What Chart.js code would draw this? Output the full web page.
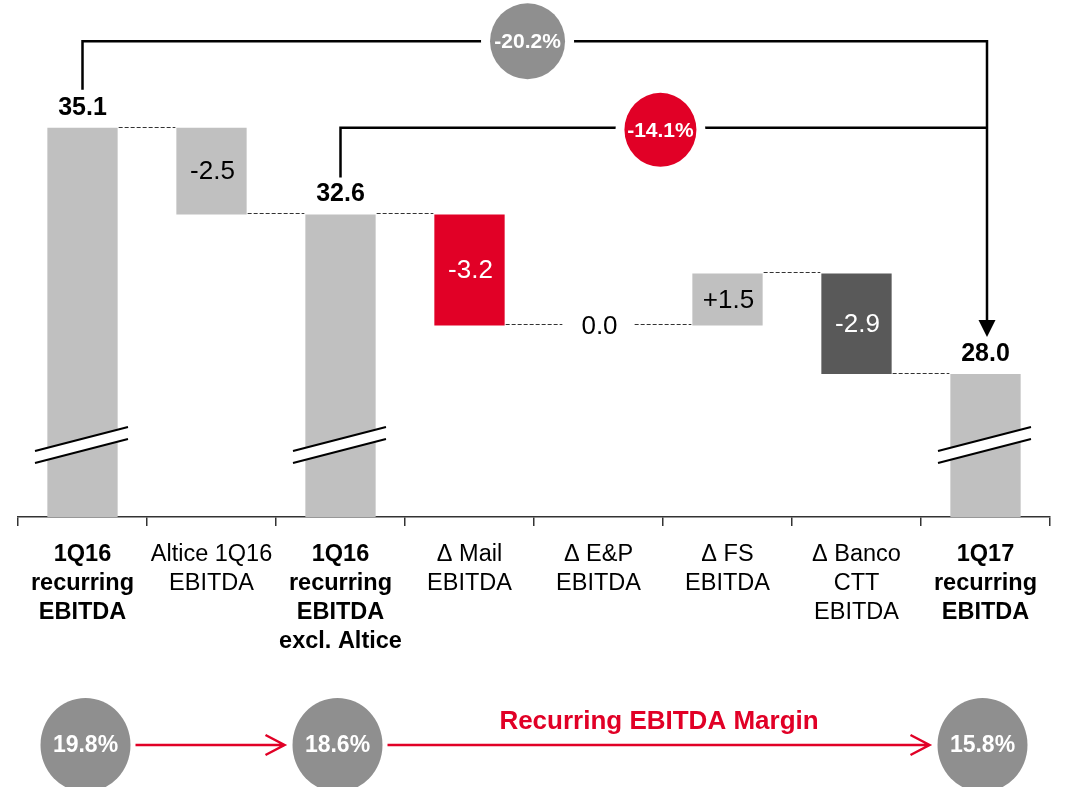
<!DOCTYPE html>
<html>
<head>
<meta charset="utf-8">
<script src="https://cdn.jsdelivr.net/npm/chart.js@4.4.0/dist/chart.umd.min.js"></script>
<style>
  html, body { margin: 0; padding: 0; background: #fff; }
</style>
</head>
<body>
<canvas id="chart" width="1065" height="787"></canvas>
<script>
const categories = [
  ['1Q16', 'recurring', 'EBITDA'],
  ['Altice 1Q16', 'EBITDA'],
  ['1Q16', 'recurring', 'EBITDA', 'excl. Altice'],
  ['Δ Mail', 'EBITDA'],
  ['Δ E&P', 'EBITDA'],
  ['Δ FS', 'EBITDA'],
  ['Δ Banco', 'CTT', 'EBITDA'],
  ['1Q17', 'recurring', 'EBITDA']
];
const totals = [35.1, null, 32.6, null, null, null, null, 28.0];
const deltas = [null, -2.5, null, -3.2, 0.0, 1.5, -2.9, null];
const growthLabels = ['-20.2%', '-14.1%'];
const marginLabels = ['19.8%', '18.6%', '15.8%'];
const marginTitle = 'Recurring EBITDA Margin';

const AXIS_MIN = 23.87;
const AXIS_MAX = 38.79;
const FONT = "'Liberation Sans', Arial, sans-serif";
const GREY = '#c0c0c0', RED = '#e10026', DARK = '#595959', BADGE = '#8f8f8f';

// build the floating bars of the waterfall
let running = 0;
const ranges = [];
const ends = [];
categories.forEach((c, i) => {
  if (totals[i] !== null) {
    ranges.push([AXIS_MIN, totals[i]]);
    running = totals[i];
  } else {
    ranges.push([running + deltas[i], running]);
    running += deltas[i];
  }
  ends.push(running);
});
const barColors = [GREY, GREY, GREY, RED, GREY, GREY, DARK, GREY];
const isTotal = totals.map(v => v !== null);

function fmtDelta(v) {
  return (v > 0 ? '+' : '') + v.toFixed(1);
}

function badge(ctx, cx, cy, rx, ry, fill, text, size, gap) {
  if (gap) {
    ctx.fillStyle = '#fff';
    ctx.beginPath();
    ctx.ellipse(cx, cy, rx + gap, ry, 0, 0, Math.PI * 2);
    ctx.fill();
  }
  ctx.fillStyle = fill;
  ctx.beginPath();
  ctx.ellipse(cx, cy, rx, ry, 0, 0, Math.PI * 2);
  ctx.fill();
  ctx.fillStyle = '#fff';
  ctx.font = 'bold ' + size + 'px ' + FONT;
  ctx.textAlign = 'center';
  ctx.textBaseline = 'middle';
  ctx.fillText(text, cx, cy + 1);
}

function arrowRight(ctx, x1, x2, yy, color) {
  ctx.strokeStyle = color;
  ctx.lineWidth = 2.5;
  ctx.beginPath();
  ctx.moveTo(x1, yy);
  ctx.lineTo(x2, yy);
  ctx.moveTo(x2 - 19, yy - 10);
  ctx.lineTo(x2, yy);
  ctx.lineTo(x2 - 19, yy + 10);
  ctx.stroke();
}

const waterfallExtras = {
  id: 'waterfallExtras',
  afterDraw(chart) {
    const { ctx, chartArea, scales: { x, y } } = chart;
    const bars = chart.getDatasetMeta(0).data;
    ctx.save();

    // dashed connectors between bars
    ctx.strokeStyle = '#333';
    ctx.lineWidth = 1;
    ctx.setLineDash([4, 2]);
    for (let i = 0; i < bars.length - 1; i++) {
      const yy = Math.round(y.getPixelForValue(ends[i])) - 0.5;
      ctx.beginPath();
      ctx.moveTo(bars[i].x + bars[i].width / 2 + 1, yy);
      ctx.lineTo(bars[i + 1].x - bars[i + 1].width / 2 - 1, yy);
      ctx.stroke();
    }
    ctx.setLineDash([]);

    // axis break marks on the total bars
    bars.forEach((b, i) => {
      if (!isTotal[i]) return;
      const by = chartArea.bottom - 72;
      const l = b.x - 47.5, r = b.x + 45.5;
      ctx.fillStyle = '#fff';
      ctx.beginPath();
      ctx.moveTo(l, by + 6);
      ctx.lineTo(r, by - 18);
      ctx.lineTo(r, by - 6);
      ctx.lineTo(l, by + 18);
      ctx.closePath();
      ctx.fill();
      ctx.strokeStyle = '#000';
      ctx.lineWidth = 2;
      ctx.beginPath();
      ctx.moveTo(l, by + 6);
      ctx.lineTo(r, by - 18);
      ctx.moveTo(l, by + 18);
      ctx.lineTo(r, by - 6);
      ctx.stroke();
    });

    // value labels
    ctx.textAlign = 'center';
    ctx.textBaseline = 'middle';
    bars.forEach((b, i) => {
      if (isTotal[i]) {
        ctx.fillStyle = '#000';
        ctx.font = 'bold 25px ' + FONT;
        ctx.fillText(totals[i].toFixed(1), b.x, y.getPixelForValue(totals[i]) - 20);
      } else {
        const mid = (y.getPixelForValue(ranges[i][0]) + y.getPixelForValue(ranges[i][1])) / 2;
        ctx.fillStyle = (barColors[i] === GREY) ? '#000' : '#fff';
        ctx.font = '26px ' + FONT;
        ctx.fillText(fmtDelta(deltas[i]), b.x + 1, mid + 1);
      }
    });

    // growth brackets
    const first = 0, mid = 2, last = bars.length - 1;
    const yHigh = y.getPixelForValue(totals[first] + 2.5);
    const yLow = y.getPixelForValue(totals[first]);
    const xEnd = bars[last].x + 1.5;
    const tipY = y.getPixelForValue(totals[last]) - 37;
    ctx.strokeStyle = '#000';
    ctx.lineWidth = 2.5;
    ctx.lineJoin = 'miter';
    ctx.beginPath();
    ctx.moveTo(bars[first].x, y.getPixelForValue(totals[first]) - 38);
    ctx.lineTo(bars[first].x, yHigh);
    ctx.lineTo(xEnd, yHigh);
    ctx.lineTo(xEnd, tipY - 14);
    ctx.stroke();
    ctx.beginPath();
    ctx.moveTo(bars[mid].x, y.getPixelForValue(totals[mid]) - 37);
    ctx.lineTo(bars[mid].x, yLow);
    ctx.lineTo(xEnd, yLow);
    ctx.stroke();
    ctx.fillStyle = '#000';
    ctx.beginPath();
    ctx.moveTo(xEnd - 8.5, tipY - 17);
    ctx.lineTo(xEnd + 8.5, tipY - 17);
    ctx.lineTo(xEnd, tipY);
    ctx.closePath();
    ctx.fill();
    badge(ctx, x.getPixelForValue(3.45), yHigh, 37.5, 38, BADGE, growthLabels[0], 21, 9);
    badge(ctx, x.getPixelForValue(4.48), yLow + 2, 36, 37, RED, growthLabels[1], 21, 9);

    // margin row
    const cy = chartArea.bottom + 228;
    const centers = [bars[first].x + 3, bars[mid].x - 3, bars[last].x - 3];
    const rr = 45;
    arrowRight(ctx, centers[0] + rr + 5, centers[1] - rr - 8, cy, RED);
    arrowRight(ctx, centers[1] + rr + 5, centers[2] - rr - 8, cy, RED);
    centers.forEach((cx, i) => badge(ctx, cx, cy, rr, 47, BADGE, marginLabels[i], 23, 0));
    ctx.fillStyle = RED;
    ctx.font = 'bold 26px ' + FONT;
    ctx.textAlign = 'center';
    ctx.textBaseline = 'middle';
    ctx.fillText(marginTitle, (centers[1] + centers[2]) / 2 - 1, cy - 23);

    ctx.restore();
  }
};

new Chart(document.getElementById('chart'), {
  type: 'bar',
  data: {
    labels: categories,
    datasets: [{
      data: ranges,
      backgroundColor: barColors,
      borderWidth: 0,
      barPercentage: 0.545,
      categoryPercentage: 1
    }]
  },
  options: {
    responsive: false,
    animation: false,
    layout: { padding: { left: 18, right: 15, top: 0, bottom: 0 } },
    plugins: {
      legend: { display: false },
      tooltip: { enabled: false }
    },
    scales: {
      x: {
        afterFit(scale) { scale.height = 270; },
        grid: { drawOnChartArea: false, tickLength: 9, color: '#333', lineWidth: 1.5 },
        border: { color: '#333', width: 1.5 },
        ticks: {
          color: '#000',
          padding: 14,
          autoSkip: false,
          maxRotation: 0,
          font: (c) => ({
            family: FONT,
            size: 23.5,
            weight: isTotal[c.index] ? 'bold' : 'normal',
            lineHeight: 29 / 23.5
          })
        }
      },
      y: { display: false, min: AXIS_MIN, max: AXIS_MAX }
    }
  },
  plugins: [waterfallExtras]
});
</script>
</body>
</html>
